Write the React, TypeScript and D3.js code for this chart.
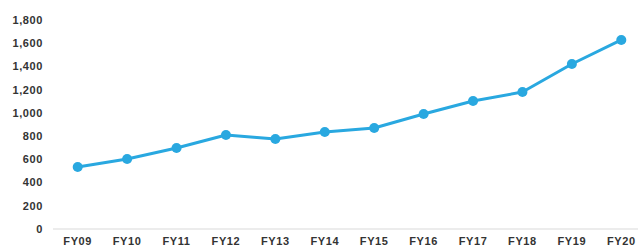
import React, { useEffect, useRef } from 'react';
import * as d3 from 'd3';

const width = 638,
      height = 248;

const years = ['FY09', 'FY10', 'FY11', 'FY12', 'FY13', 'FY14', 'FY15', 'FY16', 'FY17', 'FY18', 'FY19', 'FY20'];
const values = [534, 603, 698, 810, 775, 835, 870, 990, 1102, 1180, 1421, 1628];
const yTicks = [0, 200, 400, 600, 800, 1000, 1200, 1400, 1600, 1800];

const lineColor = '#29a8e0';

const App = () => {
    const ref = useRef<SVGSVGElement>(null);

    useEffect(() => {
        const svg = d3.select(ref.current);
        svg.html('');

        const x = d3.scalePoint().domain(years).range([53, 646]).padding(0.5);
        const y = d3.scaleLinear().domain([0, 1800]).range([229, 20]);

        // y labels, no axis line
        svg.append('g')
            .selectAll('text')
            .data(yTicks)
            .enter().append('text')
            .attr('x', 43)
            .attr('y', d => y(d))
            .attr('dy', '0.35em')
            .attr('text-anchor', 'end')
            .text(d => d3.format(',')(d));

        // baseline
        svg.append('line')
            .attr('x1', 53).attr('x2', width)
            .attr('y1', y(0)).attr('y2', y(0))
            .attr('stroke', '#d9d9d9')
            .attr('stroke-width', 1);

        svg.append('g')
            .selectAll('text')
            .data(years)
            .enter().append('text')
            .attr('x', d => x(d) as number)
            .attr('y', 245)
            .attr('text-anchor', 'middle')
            .text(d => d);

        const line = d3.line<number>()
            .x((d, i) => x(years[i]) as number)
            .y(d => y(d));

        svg.append('path')
            .datum(values)
            .attr('d', line)
            .attr('fill', 'none')
            .attr('stroke', lineColor)
            .attr('stroke-width', 3)
            .attr('stroke-linejoin', 'round');

        svg.append('g')
            .selectAll('circle')
            .data(values)
            .enter().append('circle')
            .attr('cx', (d, i) => x(years[i]) as number)
            .attr('cy', d => y(d))
            .attr('r', 5)
            .attr('fill', lineColor);
    }, []);

    return (
        <svg
            ref={ref}
            width={width}
            height={height}
            style={{ position: 'absolute', left: 0, top: 0, background: '#fff' }}
            fontFamily="'Liberation Sans', Arial, sans-serif"
            fontSize={11}
            fontWeight="bold"
            fill="#333"
            letterSpacing={0.6}
        />
    );
};

export default App;
